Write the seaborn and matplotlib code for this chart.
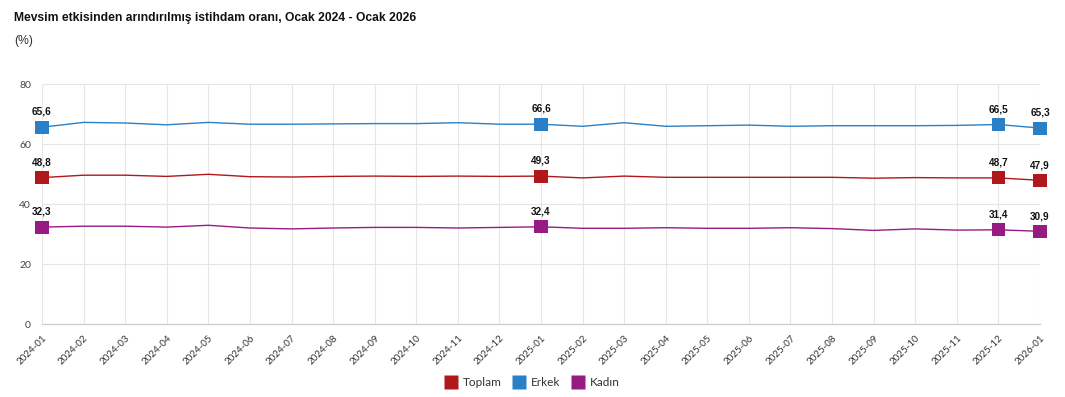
import matplotlib
matplotlib.use("Agg")
import matplotlib.pyplot as plt
from matplotlib.lines import Line2D
import seaborn as sns
import pandas as pd

months = ["2024-01", "2024-02", "2024-03", "2024-04", "2024-05", "2024-06", "2024-07",
          "2024-08", "2024-09", "2024-10", "2024-11", "2024-12", "2025-01", "2025-02",
          "2025-03", "2025-04", "2025-05", "2025-06", "2025-07", "2025-08", "2025-09",
          "2025-10", "2025-11", "2025-12", "2026-01"]
toplam = [48.8, 49.6, 49.6, 49.2, 49.9, 49.1, 49.0, 49.2, 49.3, 49.2, 49.3, 49.2, 49.3,
          48.7, 49.3, 48.9, 48.9, 48.9, 48.9, 48.9, 48.6, 48.8, 48.7, 48.7, 47.9]
erkek = [65.6, 67.2, 67.0, 66.4, 67.2, 66.6, 66.6, 66.7, 66.8, 66.8, 67.1, 66.6, 66.6,
         65.9, 67.1, 65.9, 66.1, 66.3, 65.9, 66.1, 66.1, 66.1, 66.2, 66.5, 65.3]
kadin = [32.3, 32.6, 32.6, 32.3, 32.9, 32.0, 31.7, 32.0, 32.2, 32.2, 32.0, 32.2, 32.4,
         31.9, 31.9, 32.1, 31.9, 31.9, 32.1, 31.8, 31.2, 31.7, 31.3, 31.4, 30.9]
series_names = ["Toplam", "Erkek", "Kadın"]
colors = {"Toplam": "#B0191C", "Erkek": "#2A80C6", "Kadın": "#981B84"}
labeled_idx = [0, 12, 23, 24]
title = "Mevsim etkisinden arındırılmış istihdam oranı, Ocak 2024 - Ocak 2026"
subtitle = "(%)"
yticks = [0, 20, 40, 60, 80]

rows = []
for name, vals in zip(series_names, [toplam, erkek, kadin]):
    for i, (m, v) in enumerate(zip(months, vals)):
        rows.append({"month": m, "idx": i, "value": v, "series": name})
df = pd.DataFrame(rows)

sns.set_theme(style="white")
plt.rcParams["font.family"] = ["Lato", "DejaVu Sans"]

fig = plt.figure(figsize=(10.65, 3.97), dpi=100)
ax = fig.add_axes([42 / 1065, 1 - 324 / 397, (1040 - 42) / 1065, 240 / 397])

sns.lineplot(data=df, x="idx", y="value", hue="series", palette=colors,
             hue_order=series_names, linewidth=1.0, legend=False, ax=ax, zorder=3)
sub = df[df["idx"].isin(labeled_idx)]
sns.scatterplot(data=sub, x="idx", y="value", hue="series", palette=colors,
                hue_order=series_names, marker="s", s=90, edgecolor="none",
                legend=False, ax=ax, zorder=4, clip_on=False)
for _, r in sub.iterrows():
    ax.annotate(f"{r['value']:.1f}".replace(".", ","), (r["idx"], r["value"]),
                xytext=(0, 11), textcoords="offset points", ha="center", va="center",
                fontsize=7.2, fontweight="bold", color="#111111",
                family=["Liberation Sans", "DejaVu Sans"], zorder=5)

ax.set_xlim(0, len(months) - 1)
ax.set_ylim(0, 80)
ax.set_yticks(yticks)
ax.set_yticklabels([str(t) for t in yticks])
ax.set_xticks(range(len(months)))
ax.set_xticklabels(months, rotation=45, ha="right", rotation_mode="anchor")
ax.tick_params(axis="x", labelsize=7, colors="#333333", length=5, width=0.8,
               color="#d9d9d9", pad=2)
ax.tick_params(axis="y", labelsize=7.5, colors="#444444", length=0, pad=8)
ax.set_xlabel("")
ax.set_ylabel("")
ax.grid(True, color="#e6e6e6", linewidth=0.8)
for s in ["top", "right", "left"]:
    ax.spines[s].set_visible(False)
ax.spines["bottom"].set_color("#cccccc")
ax.spines["bottom"].set_linewidth(0.9)

fig.text(14 / 1065, 1 - 18 / 397, title, fontsize=8.7, fontweight="bold",
         color="#111111", va="center", ha="left", family=["Liberation Sans", "DejaVu Sans"])
fig.text(14 / 1065, 1 - 41 / 397, subtitle, fontsize=8.7, color="#333333",
         va="center", ha="left", family=["Liberation Sans", "DejaVu Sans"])

handles = [Line2D([0], [0], marker="s", linestyle="none", markersize=9.5,
                  markerfacecolor=colors[n], markeredgecolor="none") for n in series_names]
fig.legend(handles, series_names, loc="center", bbox_to_anchor=(0.5, 1 - 383 / 397),
           ncol=3, frameon=False, fontsize=8.5, handletextpad=0.5, columnspacing=1.0,
           handlelength=1.0, labelcolor="#333333")

fig.savefig("out.png", dpi=100)
